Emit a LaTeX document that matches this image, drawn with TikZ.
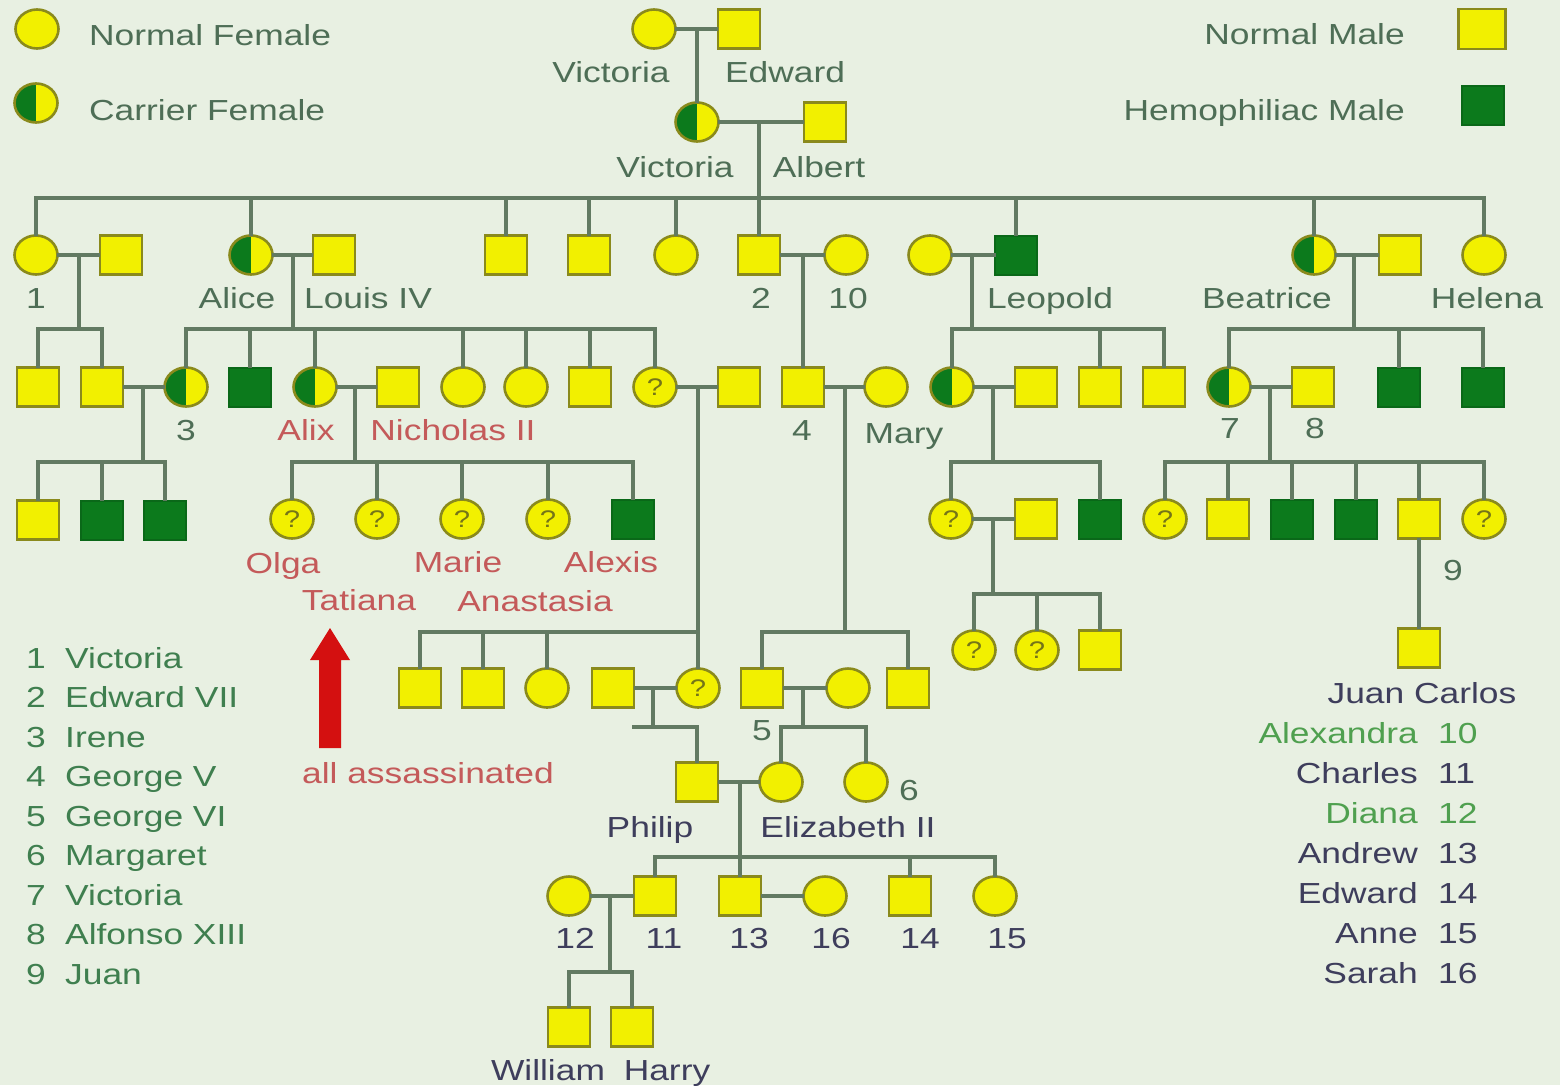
\documentclass[tikz,border=0pt]{standalone}
\usepackage{fontspec}
\setmainfont{Liberation Sans}[FakeStretch=1.22]
\usetikzlibrary{shapes.geometric}
\definecolor{bg}{HTML}{E8F0E2}
\definecolor{lncol}{HTML}{627A62}
\definecolor{yel}{HTML}{F2F000}
\definecolor{olv}{HTML}{8A8A1C}
\definecolor{dg}{HTML}{0C7A1C}
\definecolor{tg}{HTML}{4E6E56}
\definecolor{tr}{HTML}{C45A5A}
\definecolor{tb}{HTML}{3E3E5C}
\definecolor{tl}{HTML}{4FA04F}
\definecolor{tlg}{HTML}{3F7F4F}
\definecolor{arr}{HTML}{D41010}
\tikzset{
 fem/.style={ellipse, draw=olv, line width=2.6pt, fill=yel, minimum width=43pt, minimum height=39pt, inner sep=0pt},
 mal/.style={rectangle, draw=olv, line width=2.6pt, fill=yel, minimum width=42pt, minimum height=39pt, inner sep=0pt},
 hem/.style={rectangle, draw=dg!85!black, line width=2pt, fill=dg, minimum width=42pt, minimum height=39pt, inner sep=0pt},
 car/.style={fem, path picture={\fill[dg] (path picture bounding box.south west) rectangle (path picture bounding box.north);}},
 unk/.style={fem, font=\fontsize{24}{24}\selectfont, text=olv!85!black},
 lnk/.style={draw=lncol, line width=3.2pt, line cap=rect},
 lbl/.style={anchor=base, inner sep=0pt, font=\fontsize{29}{34}\selectfont, text=tg},
}
\begin{document}
\begin{tikzpicture}[x=1pt,y=-1pt]
\fill[bg] (0,0) rectangle (1560,1085);
\useasboundingbox (0,0) rectangle (1560,1085);

% ---------- legend
\node[fem] (LF) at (37,29) {};
\node[car] (LC) at (36,103) {};
\node[mal, minimum width=47pt, minimum height=40pt] (LM) at (1482,29) {};
\node[hem] (LH) at (1483,105) {};
\node[lbl, anchor=base west] (tLF) at (89,45) {Normal Female};
\node[lbl, anchor=base west] (tLC) at (89,120) {Carrier Female};
\node[lbl, anchor=base east] (tLM) at (1405,44) {Normal Male};
\node[lbl, anchor=base east] (tLH) at (1405,120) {Hemophiliac Male};

% ---------- generation 0 / 1
\node[fem] (V0) at (654,29) {};
\node[mal] (E0) at (739,29) {};
\node[car] (V1) at (697,122) {};
\node[mal] (A1) at (825,122) {};
\coordinate (m0) at (697,29);
\coordinate (m1) at (759,122);
\node[lbl] (tV0) at (611,82) {Victoria};
\node[lbl] (tE0) at (785,82) {Edward};
\node[lbl] (tV1) at (675,177) {Victoria};
\node[lbl] (tA1) at (819,177) {Albert};

% ---------- generation 2
\node[fem] (c1) at (36,255) {};
\node[mal] (h1) at (121,255) {};
\node[car] (alice) at (251,255) {};
\node[mal] (louis) at (334,255) {};
\node[mal] (g3) at (506,255) {};
\node[mal] (g4) at (589,255) {};
\node[fem] (g5) at (676,255) {};
\node[mal] (e7) at (759,255) {};
\node[fem] (alx) at (846,255) {};
\node[fem] (lw) at (930,255) {};
\node[hem] (leo) at (1016,255) {};
\node[car] (bea) at (1314,255) {};
\node[mal] (hb) at (1400,255) {};
\node[fem] (hel) at (1484,255) {};
\coordinate (m2) at (79,255);
\coordinate (m3) at (293,255);
\coordinate (m4) at (803,255);
\coordinate (m5) at (972,255);
\coordinate (m6) at (1354,255);
\node[lbl] (t1) at (36,308) {1};
\node[lbl] (tal) at (237,308) {Alice};
\node[lbl] (tlo) at (368,308) {Louis IV};
\node[lbl] (t2) at (761,308) {2};
\node[lbl] (t10) at (848,308) {10};
\node[lbl] (tleo) at (1050,308) {Leopold};
\node[lbl] (tbea) at (1267,308) {Beatrice};
\node[lbl] (thel) at (1487,308) {Helena};

% ---------- generation 3
\node[mal] (q1) at (38,387) {};
\node[mal] (q2) at (102,387) {};
\node[car] (irene) at (186,387) {};
\node[hem] (hm1) at (250,387) {};
\node[car] (alix) at (315,387) {};
\node[mal] (nich) at (398,387) {};
\node[fem] (f1) at (463,387) {};
\node[fem] (f2) at (526,387) {};
\node[mal] (s6) at (590,387) {};
\node[unk] (qA) at (655,387) {?};
\node[mal] (qAh) at (739,387) {};
\node[mal] (gv) at (803,387) {};
\node[fem] (mary) at (886,387) {};
\node[car] (lc) at (952,387) {};
\node[mal] (ls) at (1036,387) {};
\node[mal] (s7) at (1100,387) {};
\node[mal] (s8) at (1164,387) {};
\node[car] (vic7) at (1229,387) {};
\node[mal] (alf) at (1313,387) {};
\node[hem] (hm2) at (1399,387) {};
\node[hem] (hm3) at (1483,387) {};
\coordinate (m7) at (143,387);
\coordinate (m8) at (355,387);
\coordinate (m9) at (698,387);
\coordinate (m10) at (845,387);
\coordinate (m11) at (993,387);
\coordinate (m12) at (1270,387);
\node[lbl] (t3) at (186,440) {3};
\node[lbl, text=tr] (talix) at (306,440) {Alix};
\node[lbl, text=tr] (tnich) at (453,440) {Nicholas II};
\node[lbl] (t4) at (802,440) {4};
\node[lbl] (tmary) at (904,443) {Mary};
\node[lbl] (t7) at (1230,438) {7};
\node[lbl] (t8) at (1315,438) {8};

% ---------- generation 4
\node[mal] (r1) at (38,520) {};
\node[hem] (r2) at (102,520) {};
\node[hem] (r3) at (165,520) {};
\node[unk] (olga) at (292,519) {?};
\node[unk] (tat) at (377,519) {?};
\node[unk] (marie) at (462,519) {?};
\node[unk] (ana) at (548,519) {?};
\node[hem] (alexis) at (633,519) {};
\node[unk] (lq) at (951,519) {?};
\node[mal] (lsq) at (1036,519) {};
\node[hem] (lh) at (1100,519) {};
\node[unk] (b1) at (1165,519) {?};
\node[mal] (b2) at (1228,519) {};
\node[hem] (b3) at (1292,519) {};
\node[hem] (b4) at (1356,519) {};
\node[mal] (b5) at (1419,519) {};
\node[unk] (b6) at (1484,519) {?};
\coordinate (m13) at (993,519);
\node[lbl, text=tr] (tolga) at (283,573) {Olga};
\node[lbl, text=tr] (ttat) at (359,610) {Tatiana};
\node[lbl, text=tr] (tmarie) at (458,572) {Marie};
\node[lbl, text=tr] (tana) at (535,611) {Anastasia};
\node[lbl, text=tr] (talexis) at (611,572) {Alexis};
\node[lbl] (t9) at (1453,580) {9};
\node[unk] (k1) at (974,650) {?};
\node[unk] (k2) at (1037,650) {?};
\node[mal] (k3) at (1100,650) {};
\node[mal] (jc) at (1419,648) {};
\node[lbl, text=tb] (tjc) at (1422,703) {Juan Carlos};

% ---------- generation 5
\node[mal] (u1) at (420,688) {};
\node[mal] (u2) at (483,688) {};
\node[fem] (u3) at (547,688) {};
\node[mal] (u4) at (613,688) {};
\node[unk] (pA) at (698,688) {?};
\node[mal] (g6) at (762,688) {};
\node[fem] (gm) at (848,688) {};
\node[mal] (g7) at (908,688) {};
\coordinate (m14) at (653,688);
\coordinate (m15) at (803,688);
\coordinate (S6a) at (634,727);
\node[lbl] (t5) at (762,740) {5};

% ---------- generation 6
\node[mal] (philip) at (697,782) {};
\node[fem] (eliz) at (781,782) {};
\node[fem] (marg) at (866,782) {};
\coordinate (m16) at (740,782);
\node[lbl] (t6) at (909,800) {6};
\node[lbl, text=tb] (tphil) at (650,837) {Philip};
\node[lbl, text=tb] (teliz) at (848,837) {Elizabeth II};

% ---------- generation 7
\node[fem] (diana) at (569,896) {};
\node[mal] (charles) at (655,896) {};
\node[mal] (andrew) at (740,896) {};
\node[fem] (sarah) at (825,896) {};
\node[mal] (edw) at (910,896) {};
\node[fem] (anne) at (995,896) {};
\coordinate (m17) at (610,896);
\node[lbl, text=tb] (t12) at (575,948) {12};
\node[lbl, text=tb] (t11) at (664,948) {11};
\node[lbl, text=tb] (t13) at (749,948) {13};
\node[lbl, text=tb] (t16) at (831,948) {16};
\node[lbl, text=tb] (t14) at (920,948) {14};
\node[lbl, text=tb] (t15) at (1007,948) {15};
\node[mal] (will) at (569,1027) {};
\node[mal] (harry) at (632,1027) {};
\node[lbl, text=tb] (twill) at (548,1080) {William};
\node[lbl, text=tb] (tharry) at (667,1080) {Harry};

% ---------- sibship levels
\coordinate (S1) at (0,198);
\coordinate (S2) at (0,329);
\coordinate (S3) at (0,462);
\coordinate (S4) at (0,594);
\coordinate (S5) at (0,632);
\coordinate (S6) at (0,727);
\coordinate (S7) at (0,857);
\coordinate (S8) at (0,972);

% ---------- connectors
\draw[lnk] (V0.east) -- (E0.west);
\draw[lnk] (m0) -- (V1.north);
\draw[lnk] (V1.east) -- (A1.west);
\draw[lnk] (m1) -- (m1 |- S1);
\draw[lnk] (c1.north |- S1) -- (hel.north |- S1);
\foreach \n in {c1,alice,g3,g4,g5,e7,leo,bea,hel} \draw[lnk] (\n.north) -- (\n.north |- S1);

\draw[lnk] (c1.east) -- (h1.west);
\draw[lnk] (alice.east) -- (louis.west);
\draw[lnk] (e7.east) -- (alx.west);
\draw[lnk] (lw.east) -- (leo.west);
\draw[lnk] (bea.east) -- (hb.west);

\draw[lnk] (m2) -- (m2 |- S2);
\draw[lnk] (q1.north |- S2) -- (q2.north |- S2);
\foreach \n in {q1,q2} \draw[lnk] (\n.north) -- (\n.north |- S2);
\draw[lnk] (m3) -- (m3 |- S2);
\draw[lnk] (irene.north |- S2) -- (qA.north |- S2);
\foreach \n in {irene,hm1,alix,f1,f2,s6,qA} \draw[lnk] (\n.north) -- (\n.north |- S2);
\draw[lnk] (m4) -- (gv.north);
\draw[lnk] (m5) -- (m5 |- S2);
\draw[lnk] (lc.north |- S2) -- (s8.north |- S2);
\foreach \n in {lc,s7,s8} \draw[lnk] (\n.north) -- (\n.north |- S2);
\draw[lnk] (m6) -- (m6 |- S2);
\draw[lnk] (vic7.north |- S2) -- (hm3.north |- S2);
\foreach \n in {vic7,hm2,hm3} \draw[lnk] (\n.north) -- (\n.north |- S2);

\draw[lnk] (q2.east) -- (irene.west);
\draw[lnk] (alix.east) -- (nich.west);
\draw[lnk] (qA.east) -- (qAh.west);
\draw[lnk] (gv.east) -- (mary.west);
\draw[lnk] (lc.east) -- (ls.west);
\draw[lnk] (vic7.east) -- (alf.west);

\draw[lnk] (m7) -- (m7 |- S3);
\draw[lnk] (r1.north |- S3) -- (r3.north |- S3);
\foreach \n in {r1,r2,r3} \draw[lnk] (\n.north) -- (\n.north |- S3);
\draw[lnk] (m8) -- (m8 |- S3);
\draw[lnk] (olga.north |- S3) -- (alexis.north |- S3);
\foreach \n in {olga,tat,marie,ana,alexis} \draw[lnk] (\n.north) -- (\n.north |- S3);
\draw[lnk] (m11) -- (m11 |- S3);
\draw[lnk] (lq.north |- S3) -- (lh.north |- S3);
\foreach \n in {lq,lh} \draw[lnk] (\n.north) -- (\n.north |- S3);
\draw[lnk] (m12) -- (m12 |- S3);
\draw[lnk] (b1.north |- S3) -- (b6.north |- S3);
\foreach \n in {b1,b2,b3,b4,b5,b6} \draw[lnk] (\n.north) -- (\n.north |- S3);

\draw[lnk] (lq.east) -- (lsq.west);
\draw[lnk] (m13) -- (m13 |- S4);
\draw[lnk] (k1.north |- S4) -- (k3.north |- S4);
\foreach \n in {k1,k2,k3} \draw[lnk] (\n.north) -- (\n.north |- S4);
\draw[lnk] (b5.south) -- (jc.north);

\draw[lnk] (m9) -- (pA.north);
\draw[lnk] (u1.north |- S5) -- (m9 |- S5);
\foreach \n in {u1,u2,u3} \draw[lnk] (\n.north) -- (\n.north |- S5);
\draw[lnk] (m10) -- (m10 |- S5);
\draw[lnk] (g6.north |- S5) -- (g7.north |- S5);
\foreach \n in {g6,g7} \draw[lnk] (\n.north) -- (\n.north |- S5);

\draw[lnk] (u4.east) -- (pA.west);
\draw[lnk] (m14) -- (m14 |- S6);
\draw[lnk] (S6a) -- (philip.north |- S6a);
\draw[lnk] (philip.north) -- (philip.north |- S6);
\draw[lnk] (g6.east) -- (gm.west);
\draw[lnk] (m15) -- (m15 |- S6);
\draw[lnk] (eliz.north |- S6) -- (marg.north |- S6);
\foreach \n in {eliz,marg} \draw[lnk] (\n.north) -- (\n.north |- S6);

\draw[lnk] (philip.east) -- (eliz.west);
\draw[lnk] (m16) -- (m16 |- S7);
\draw[lnk] (charles.north |- S7) -- (anne.north |- S7);
\foreach \n in {charles,andrew,edw,anne} \draw[lnk] (\n.north) -- (\n.north |- S7);
\draw[lnk] (diana.east) -- (charles.west);
\draw[lnk] (andrew.east) -- (sarah.west);
\draw[lnk] (m17) -- (m17 |- S8);
\draw[lnk] (will.north |- S8) -- (harry.north |- S8);
\foreach \n in {will,harry} \draw[lnk] (\n.north) -- (\n.north |- S8);

% ---------- red arrow and note
\fill[arr] (319,748) -- (319,660) -- (310,660) -- (330,628) -- (350,660) -- (341,660) -- (341,748) -- cycle;
\node[lbl, text=tr] (tass) at (428,783) {all assassinated};

% ---------- left key list
\foreach \n/\t [count=\i from 0] in {1/Victoria,2/Edward VII,3/Irene,4/George V,5/George VI,6/Margaret,7/Victoria,8/Alfonso XIII,9/Juan} {
  \node[lbl, text=tlg, anchor=base east] (kn\n) at (46,{668+39.5*\i}) {\n};
  \node[lbl, text=tlg, anchor=base west] (kt\n) at (65,{668+39.5*\i}) {\t};
}

% ---------- right key list
\foreach \t/\n/\c [count=\i from 0] in {Alexandra/10/tl,Charles/11/tb,Diana/12/tl,Andrew/13/tb,Edward/14/tb,Anne/15/tb,Sarah/16/tb} {
  \node[lbl, text=\c, anchor=base east] (rt\n) at (1418,{743+40*\i}) {\t};
  \node[lbl, text=\c, anchor=base west] (rn\n) at (1438,{743+40*\i}) {\n};
}
\end{tikzpicture}
\end{document}
